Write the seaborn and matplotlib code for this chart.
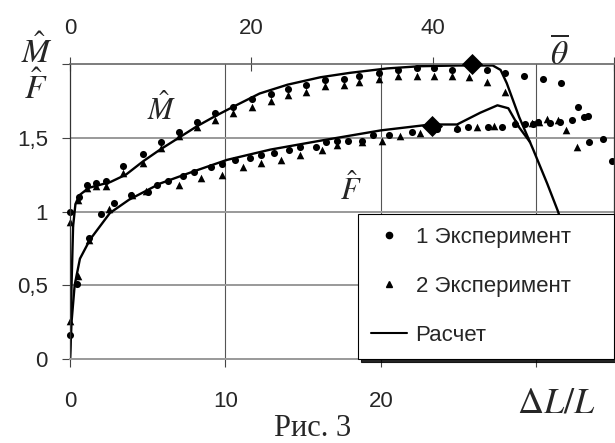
import matplotlib
matplotlib.use('Agg')
import matplotlib.pyplot as plt
from matplotlib.lines import Line2D
import seaborn as sns

# --- Момент M: эксперимент 1 (точки) и 2 (треугольники)
m_exp1_x = [0, 0.6, 1.1, 1.7, 2.3, 3.4, 4.7, 5.85, 7.0, 8.2, 9.3, 10.5, 11.7, 12.9, 14.0, 15.2,
            16.4, 17.6, 18.6, 19.9, 21.1, 22.3, 23.4, 24.6, 26.8, 28.0, 29.2, 30.4, 31.6]
m_exp1_y = [1.0, 1.10, 1.18, 1.19, 1.21, 1.31, 1.39, 1.47, 1.54, 1.61, 1.67, 1.71, 1.76, 1.80,
            1.83, 1.86, 1.89, 1.90, 1.92, 1.94, 1.96, 1.97, 1.97, 1.96, 1.96, 1.94, 1.92, 1.90, 1.87]
m_exp2_x = [0, 0.5, 1.1, 1.7, 2.3, 3.4, 4.7, 5.85, 7.0, 8.2, 9.3, 10.5, 11.7, 12.9, 14.0, 15.2,
            16.4, 17.6, 18.6, 19.9, 21.1, 22.3, 23.4, 24.6, 25.7, 26.8, 28.0]
m_exp2_y = [0.93, 1.08, 1.16, 1.17, 1.17, 1.26, 1.33, 1.43, 1.51, 1.57, 1.62, 1.67, 1.71, 1.75,
            1.79, 1.81, 1.85, 1.86, 1.88, 1.90, 1.92, 1.92, 1.92, 1.92, 1.91, 1.88, 1.81]

# --- Усилие F
f_exp1_x = [0, 0.43, 1.2, 2.0, 2.8, 3.9, 5.0, 5.6, 6.3, 7.3, 8.0, 9.1, 9.8, 10.6, 11.6, 12.3,
            13.1, 14.1, 14.8, 15.8, 16.5, 17.2, 17.9, 18.8, 19.5, 20.5, 22.0, 23.6, 24.9, 25.6,
            26.9, 27.8, 28.6, 29.3, 29.8, 30.1, 30.9, 31.5, 32.3, 32.7, 33.1, 33.3, 33.4, 34.3, 34.9]
f_exp1_y = [0.16, 0.51, 0.82, 0.98, 1.06, 1.11, 1.13, 1.18, 1.21, 1.24, 1.27, 1.30, 1.32, 1.35,
            1.36, 1.38, 1.40, 1.42, 1.44, 1.44, 1.47, 1.48, 1.48, 1.48, 1.52, 1.52, 1.54, 1.56,
            1.56, 1.57, 1.57, 1.57, 1.59, 1.59, 1.59, 1.61, 1.60, 1.61, 1.62, 1.71, 1.64, 1.65,
            1.47, 1.49, 1.34]
f_exp2_x = [0, 0.5, 1.2, 2.5, 4.0, 4.9, 7.0, 8.4, 9.8, 11.1, 12.3, 13.6, 14.8, 16.2, 17.2, 18.8,
            20.1, 21.2, 22.5, 24.9, 26.2, 27.3, 28.7, 29.7, 30.2, 30.7, 31.4, 31.9, 32.6]
f_exp2_y = [0.26, 0.56, 0.81, 1.02, 1.11, 1.14, 1.18, 1.23, 1.25, 1.30, 1.33, 1.35, 1.38, 1.42,
            1.45, 1.47, 1.48, 1.51, 1.53, 1.57, 1.57, 1.58, 1.60, 1.60, 1.61, 1.63, 1.62, 1.55, 1.44]

# --- Расчет
m_calc_x = [0, 0.1, 0.2, 0.35, 0.6, 1.2, 2.6, 3.6, 4.7, 5.8, 7.0, 8.2, 9.4, 10.5, 12.2, 14.0,
            16.1, 18.0, 20.4, 22.5, 25.0, 27.2, 27.7, 28.1, 28.9, 29.8, 30.7, 31.4, 32.3]
m_calc_y = [0, 0.5, 0.9, 1.05, 1.11, 1.16, 1.20, 1.25, 1.34, 1.42, 1.50, 1.58, 1.65, 1.71, 1.80,
            1.86, 1.91, 1.94, 1.97, 1.985, 1.99, 1.99, 1.96, 1.87, 1.64, 1.42, 1.19, 1.0, 0.7]
f_calc_x = [0, 0.1, 0.3, 0.64, 1.29, 2.57, 3.8, 5.8, 7.9, 10.1, 12.9, 16.1, 20.0, 23.2, 24.9,
            26.4, 27.5, 28.2, 28.9, 29.6]
f_calc_y = [0, 0.25, 0.5, 0.68, 0.81, 0.99, 1.08, 1.19, 1.27, 1.35, 1.42, 1.48, 1.55, 1.59, 1.59,
            1.67, 1.72, 1.70, 1.57, 1.47]

# ромбы на кривых
diam_x = [25.85, 23.3]
diam_y = [2.0, 1.58]

x_ticks = [0, 10, 20, 30]
x_tick_labels = ['0', '10', '20', '']
top_ticks = [0, 20, 40, 60]
top_tick_labels = ['0', '20', '40', '']
y_ticks = [0, 0.5, 1, 1.5, 2]
y_tick_labels = ['0', '0,5', '1', '1,5', '']
legend_labels = ['1 Эксперимент', '2 Эксперимент', 'Расчет']

sns.set_theme(style='white')
plt.rcParams['font.family'] = ['Liberation Sans', 'DejaVu Sans']
plt.rcParams['mathtext.fontset'] = 'stix'

fig = plt.figure(figsize=(6.15, 4.43), dpi=100)
ax = fig.add_axes([0.1138, 0.1896, 0.8846, 0.6659])

# расчетные кривые
sns.lineplot(x=m_calc_x, y=m_calc_y, sort=False, estimator=None, color='black', lw=1.7, ax=ax)
sns.lineplot(x=f_calc_x, y=f_calc_y, sort=False, estimator=None, color='black', lw=1.7, ax=ax)

# экспериментальные точки
for xs, ys in [(m_exp1_x, m_exp1_y), (f_exp1_x, f_exp1_y)]:
    sns.scatterplot(x=xs, y=ys, marker='o', s=26, color='black', linewidth=0, ax=ax, clip_on=False)
for xs, ys in [(m_exp2_x, m_exp2_y), (f_exp2_x, f_exp2_y)]:
    sns.scatterplot(x=xs, y=ys, marker='^', s=30, color='black', linewidth=0, ax=ax, clip_on=False)
sns.scatterplot(x=diam_x, y=diam_y, marker='D', s=115, color='black', linewidth=0, ax=ax,
                clip_on=False, zorder=4)

ax.set_xlim(0, 35)
ax.set_ylim(0, 2)
ax.set_xticks(x_ticks)
ax.set_xticklabels(x_tick_labels, fontsize=16)
ax.set_yticks(y_ticks)
ax.set_yticklabels(y_tick_labels, fontsize=16)
ax.tick_params(axis='x', direction='out', length=6, width=0.8, color='#444', pad=17, bottom=True)
ax.tick_params(axis='y', direction='out', length=6, width=0.8, color='#444', pad=10, left=True)

# сетка
for xv in x_ticks[1:]:
    ax.axvline(xv, color='#555', lw=0.8, zorder=0)
for yv in y_ticks[1:-1]:
    ax.axhline(yv, color='#999', lw=1.4, zorder=0)
ax.spines['left'].set_color('#333')
ax.spines['left'].set_linewidth(0.9)
ax.spines['bottom'].set_color('#999')
ax.spines['bottom'].set_linewidth(1.4)
ax.spines['top'].set_color('#666')
ax.spines['top'].set_linewidth(1.2)
ax.spines['right'].set_color('#333')
ax.spines['right'].set_linewidth(0.9)

# верхняя ось θ
sec = ax.secondary_xaxis('top', functions=(lambda x: x * 60 / 35, lambda t: t * 35 / 60))
sec.set_xticks(top_ticks)
sec.set_xticklabels(top_tick_labels, fontsize=16)
sec.tick_params(direction='inout', length=10, width=0.8, color='#444', pad=13)
sec.spines['top'].set_visible(False)

# легенда
handles = [Line2D([], [], marker='o', ls='none', color='black', markersize=4.5),
           Line2D([], [], marker='^', ls='none', color='black', markersize=5),
           Line2D([], [], color='black', lw=1.5)]
leg = ax.legend(handles, legend_labels, loc='lower left', bbox_to_anchor=(0.529, 0.0, 0.471, 0.5),
                mode='expand', fontsize=16, frameon=True, fancybox=False, framealpha=1,
                borderpad=0.6, labelspacing=1.25, handlelength=1.6, handletextpad=0.4,
                borderaxespad=0, shadow={'color': 'black', 'alpha': 0.85})
leg.get_frame().set_edgecolor('black')
leg.get_frame().set_linewidth(0.8)

# подписи
ax.text(-0.061, 1.003, r'$\hat{M}$', transform=ax.transAxes, ha='center', va='baseline', fontsize=24)
ax.text(-0.063, 0.881, r'$\hat{F}$', transform=ax.transAxes, ha='center', va='baseline', fontsize=24)
ax.text(5.9, 1.62, r'$\hat{M}$', ha='center', va='baseline', fontsize=22)
ax.text(18.1, 1.08, r'$\hat{F}$', ha='center', va='baseline', fontsize=22)
ax.text(31.5, 2.0, r'$\overline{\theta}$', ha='center', va='baseline', fontsize=24)
ax.text(31.3, -0.366, r'$\mathit{\Delta L/L}$', ha='center', va='baseline', fontsize=26)
fig.text(313 / 615, 0.0, 'Рис. 3', ha='center', va='bottom', fontsize=22,
         family=['Liberation Serif', 'DejaVu Serif'])

fig.savefig('out.png', dpi=100)
